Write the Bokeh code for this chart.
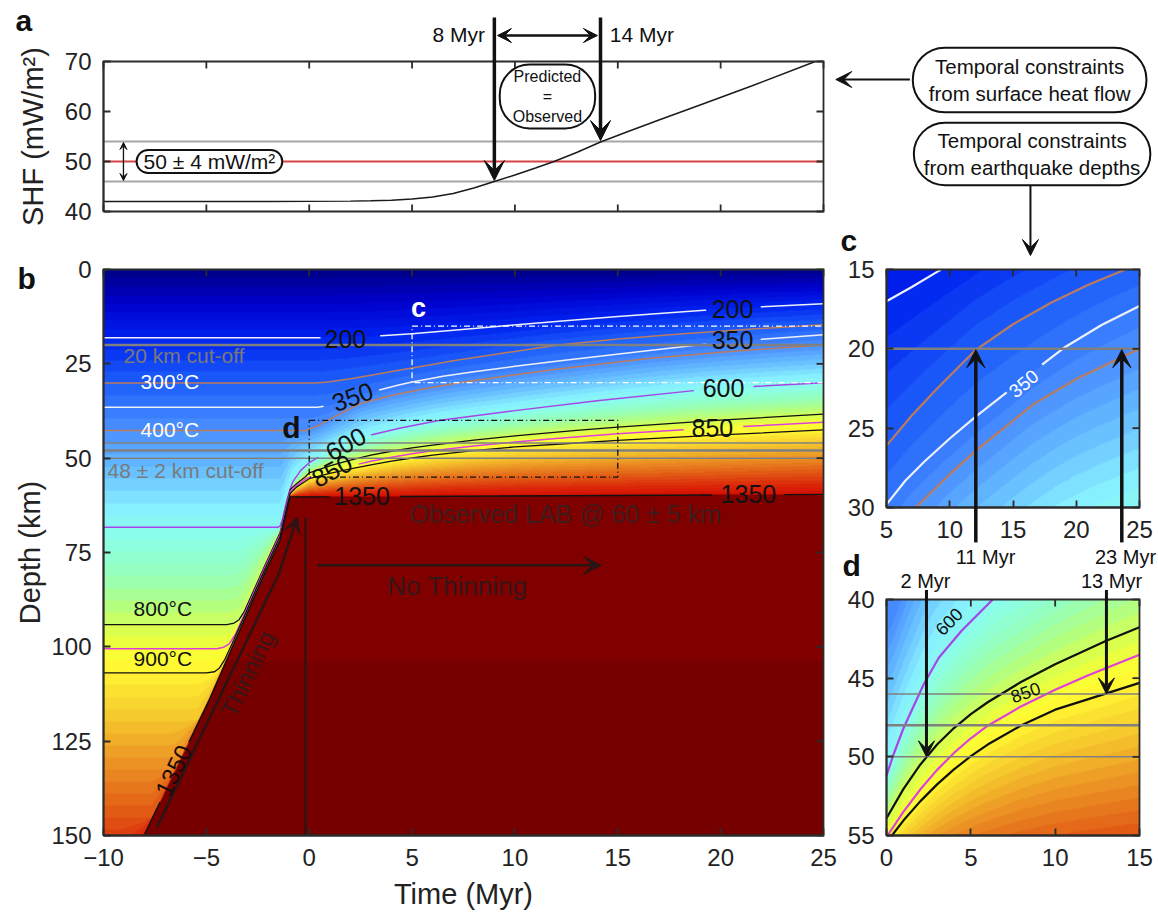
import numpy as np
from bokeh.plotting import figure
from bokeh.models import Range1d, LinearAxis, FixedTicker, Label, Arrow, VeeHead
from bokeh.embed import file_html
from bokeh.resources import INLINE

FONT = "Liberation Sans"
TICK_FS = "24px"
AXLAB_FS = "29px"
AX_COL = "#2b2b2b"

# ---------------- panel a : surface heat flow ----------------
shf_time = [-10, -2, 0, 2, 3, 4, 5, 6, 7, 8, 9, 10, 11, 11.9, 13.0, 14.16, 15.5, 17.0, 19.0, 21.5, 24.6]
shf_value = [42.0, 42.0, 42.03, 42.08, 42.14, 42.25, 42.5, 42.9, 43.6, 44.7, 46.0, 47.3, 48.7, 50.0, 51.8, 53.9, 56.0, 58.3, 61.3, 65.1, 70.0]
shf_obs = 50.0
shf_err = 4.0
shf_window_time = [9.0, 14.16]
shf_window_label = ["8 Myr", "14 Myr"]

# ---------------- isotherm depths (km) against time (Myr) ----------------
iso200_t = [-10, 0.5, 2.0, 3.5, 5.0, 7.0, 9.0, 12.0, 15.0, 19.2, 22.0, 25.0]
iso200_z = [18.1, 18.1, 17.9, 17.55, 17.0, 16.1, 15.15, 13.75, 12.45, 10.8, 9.9, 9.1]
iso300_t = [-10, 0.3, 1.0, 2.0, 3.0, 4.0, 5.0, 7.0, 9.0, 12.0, 15.0, 18.0, 21.0, 23.6, 25.0]
iso300_z = [30.1, 30.1, 29.75, 28.95, 28.0, 27.05, 26.1, 24.2, 22.5, 20.1, 18.45, 17.1, 15.95, 15.1, 14.65]
iso350_t = [-10, 0.4, 1.0, 2.0, 3.0, 4.3, 5.0, 6.5, 8.0, 10.0, 12.0, 16.0, 19.0, 22.0, 25.0]
iso350_z = [36.5, 36.5, 36.0, 34.2, 32.5, 30.7, 29.8, 28.3, 27.1, 25.65, 24.3, 21.8, 19.95, 18.5, 17.3]
iso400_t = [-10, -0.2, 0.5, 1.2, 2.5, 4.0, 5.4, 7.3, 10.0, 12.1, 16.6, 20.0, 25.0]
iso400_z = [42.7, 42.7, 41.2, 39.1, 35.5, 33.4, 31.8, 30.0, 27.9, 26.4, 23.5, 21.9, 20.0]
iso600_t = [-10, -1.5, -1.4, -1.3, -1.2, -1.08, -0.95, -0.8, -0.42, 0.0, 0.4, 1.0, 2.2, 3.1, 4.44, 6.3, 10.0, 14.0, 18.7, 21.6, 25.0]
iso600_z = [68.3, 68.3, 67.9, 66.2, 63.8, 61.0, 58.6, 56.3, 53.3, 51.2, 49.9, 48.2, 45.4, 43.7, 42.0, 40.0, 37.4, 34.8, 32.1, 31.0, 30.0]
iso800_t = [-10, -4.0, -3.65, -3.41, -3.15, -2.2, -1.42, -1.15, -1.0, -0.92, -0.6, -0.2, 0, 1, 2, 3, 4, 5, 6, 8, 10, 13, 15, 20, 25]
iso800_z = [94.1, 94.1, 93.7, 92.8, 90.6, 79.0, 69.8, 63.5, 60.0, 58.3, 56.7, 55.0, 53.9, 52.05, 50.5, 49.22, 48.17, 47.29, 46.53, 45.23, 44.11, 42.64, 41.76, 39.9, 38.35]
iso850_t = [-10, -4.5, -4.15, -3.89, -3.6, -3.0, -2.2, -1.42, -1.15, -1.0, -0.92, -0.6, -0.2, 0, 1, 2, 3, 4, 5, 6, 8, 10, 12, 15, 20, 25]
iso850_z = [100.5, 100.5, 100.1, 99.2, 96.8, 89.5, 79.5, 70.3, 64.0, 60.5, 58.8, 57.2, 55.6, 55.1, 53.5, 52.08, 50.83, 49.75, 48.82, 48.02, 46.78, 45.74, 44.8, 43.51, 41.91, 40.51]
iso900_t = [-10, -5.0, -4.6, -4.36, -4.1, -3.8, -3.0, -2.2, -1.42, -1.15, -1.0, -0.92, -0.6, -0.2, 0, 1, 2, 3, 4, 5, 6, 8, 10, 13, 15, 20, 25]
iso900_z = [106.9, 106.9, 106.6, 105.6, 103.3, 99.8, 90.0, 80.0, 70.8, 64.5, 61.0, 59.3, 57.6, 56.2, 55.45, 54.05, 52.83, 51.75, 50.8, 49.96, 49.22, 48.0, 47.0, 45.98, 45.3, 43.85, 42.5]
iso1000_t = [-10, -5.8, -5.41, -5.1, -4.87, -2.2, -1.42, -1.15, -1.0, -0.92]
iso1000_z = [119.7, 119.7, 119.3, 116.1, 113.5, 80.3, 71.1, 64.8, 61.3, 59.6]
iso1100_t = [-10, -6.9, -6.53, -6.2, -4.87, -2.2, -1.42, -1.15, -1.0, -0.92]
iso1100_z = [132.5, 132.5, 132.1, 128.8, 113.7, 80.5, 71.3, 65.0, 61.5, 59.8]
iso1200_t = [-10, -8.0, -7.64, -7.3, -4.87, -2.2, -1.42, -1.15, -1.0, -0.92]
iso1200_z = [145.3, 145.3, 145.0, 141.4, 113.9, 80.7, 71.5, 65.2, 61.7, 60.0]
iso1300_t = [-10, -9.2, -8.03, -4.87, -2.2, -1.42, -1.15, -1.0, -0.92]
iso1300_z = [158.0, 158.0, 149.85, 114.05, 80.85, 71.65, 65.35, 61.85, 60.15]
iso1350_t = [-10, -8.6, -8.03, -4.87, -2.2, -1.42, -1.15, -1.0, -0.92, 25.0]
iso1350_z = [164.0, 157.0, 150.0, 114.2, 81.0, 71.8, 65.5, 62.0, 60.3, 59.6]

ISOTHERMS = [(200, iso200_t, iso200_z), (300, iso300_t, iso300_z), (350, iso350_t, iso350_z),
             (400, iso400_t, iso400_z), (600, iso600_t, iso600_z), (800, iso800_t, iso800_z),
             (850, iso850_t, iso850_z), (900, iso900_t, iso900_z), (1000, iso1000_t, iso1000_z),
             (1100, iso1100_t, iso1100_z), (1200, iso1200_t, iso1200_z), (1300, iso1300_t, iso1300_z),
             (1350, iso1350_t, iso1350_z)]

# seismogenic cut-off depths (km)
cutoff_shallow = 20.0
cutoff_deep = [46.0, 48.0, 50.0]

# earthquake-depth constraints
c_arrow_time = [12.06, 23.6]
c_arrow_label = ["11 Myr", "23 Myr"]
d_arrow_time = [2.37, 13.04]
d_arrow_depth = [50.0, 46.0]
d_arrow_label = ["2 Myr", "13 Myr"]

# thinning path (time, depth)
thin_t = [-7.4, -1.48, -0.58]
thin_z = [147.8, 80.7, 65.6]

# colour map anchors (temperature -> rgb)
cmap_T = [0, 100, 200, 300, 400, 500, 560, 620, 700, 760, 820, 870, 920, 1000, 1100, 1200, 1280, 1350]
cmap_R = [0, 0, 0, 30, 75, 110, 135, 140, 150, 180, 225, 255, 255, 245, 235, 225, 220, 212]
cmap_G = [0, 0, 35, 95, 145, 200, 240, 255, 255, 255, 255, 255, 235, 195, 140, 85, 40, 15]
cmap_B = [135, 205, 240, 250, 255, 255, 255, 235, 185, 130, 70, 50, 50, 45, 35, 20, 10, 0]
band = 25.0
mantle_rgb = (128, 0, 0)
mantle_deep_rgb = (118, 0, 0)
mantle_band_depth = 103.5

WHITE_ISO = "#EEF0F8"
BROWN = "#BA7B5E"
PURPLE = "#A646E6"
MAGENTA = "#E040D8"
BLACK = "#111111"
GRAY = "#808080"
DARKTXT = "#361616"

# ---------------- page layout: panel boxes in pixels, with axis limits ----------------
W, H = 1158, 913
PANEL_BOX = {"a": (103, 823, 61, 211), "b": (103, 823, 269, 835),
             "c": (886, 1139, 269, 507), "d": (886, 1139, 599, 835)}
PANEL_X = {"a": (-10, 25), "b": (-10, 25), "c": (5, 25), "d": (0, 15)}
PANEL_Y = {"a": (40, 70), "b": (-150, 0), "c": (-30, -15), "d": (-55, -40)}

p = figure(width=W, height=H, x_range=Range1d(0, W), y_range=Range1d(0, H),
           x_axis_location=None, y_axis_location=None, min_border=0,
           output_backend="svg", toolbar_location=None)
p.grid.visible = False
p.outline_line_color = None
p.background_fill_color = "white"
p.border_fill_color = "white"

UX, UY = {}, {}
for k in "abcd":
    l, r, t, b = PANEL_BOX[k]
    x0, x1 = PANEL_X[k]
    y0, y1 = PANEL_Y[k]
    UX[k] = (x1 - x0) / (r - l)
    UY[k] = (y1 - y0) / (b - t)
    p.extra_x_ranges[k + "x"] = Range1d(x0 - l * UX[k], x1 + (W - r) * UX[k])
    p.extra_y_ranges[k + "y"] = Range1d(y0 - (H - b) * UY[k], y1 + t * UY[k])


def R(k):
    return dict(x_range_name=k + "x", y_range_name=k + "y")


def temperature(tv, zv):
    out = np.empty((len(zv), len(tv)))
    for i, t in enumerate(tv):
        temps = [0.0]
        deps = [0.0]
        for T, kt, kz in ISOTHERMS:
            if kt[0] <= t <= kt[-1]:
                temps.append(float(T))
                deps.append(float(np.interp(t, kt, kz)))
        order = np.argsort(temps)
        temps = np.array(temps)[order]
        deps = np.maximum.accumulate(np.array(deps)[order]) + np.arange(len(temps)) * 1e-6
        out[:, i] = np.interp(zv, deps, temps, right=1400.0)
    return out


def colorize(T, zv):
    Tq = np.floor(T / band) * band + band / 2
    Rc = np.interp(Tq, cmap_T, cmap_R)
    Gc = np.interp(Tq, cmap_T, cmap_G)
    Bc = np.interp(Tq, cmap_T, cmap_B)
    hot = T >= 1350
    deep = hot & (zv[:, None] > mantle_band_depth)
    for arr, j in ((Rc, 0), (Gc, 1), (Bc, 2)):
        arr[hot] = mantle_rgb[j]
        arr[deep] = mantle_deep_rgb[j]
    nz, nx = T.shape
    img = np.empty((nz, nx), dtype=np.uint32)
    view = img.view(dtype=np.uint8).reshape((nz, nx, 4))
    view[..., 0] = Rc.astype(np.uint8)
    view[..., 1] = Gc.astype(np.uint8)
    view[..., 2] = Bc.astype(np.uint8)
    view[..., 3] = 255
    return img


def add_field(k):
    l, r, t, b = PANEL_BOX[k]
    t0, t1 = PANEL_X[k]
    z0, z1 = -PANEL_Y[k][1], -PANEL_Y[k][0]
    nx, nz = r - l, b - t
    tv = t0 + (np.arange(nx) + 0.5) * (t1 - t0) / nx
    zv = z1 - (np.arange(nz) + 0.5) * (z1 - z0) / nz
    img = colorize(temperature(tv, zv), zv)
    p.image_rgba(image=[img], x=t0, y=-z1, dw=t1 - t0, dh=z1 - z0, **R(k))


def gapped(kt, kz, gaps=()):
    kt = np.asarray(kt, float)
    kz = np.asarray(kz, float)
    pts = [(a, c) for a, c in zip(kt, kz) if not any(g0 < a < g1 for g0, g1 in gaps)]
    for g0, g1 in gaps:
        pts.append((g0, float(np.interp(g0, kt, kz))))
        pts.append(((g0 + g1) / 2, np.nan))
        pts.append((g1, float(np.interp(g1, kt, kz))))
    pts.sort(key=lambda q: q[0])
    return np.array([q[0] for q in pts]), np.array([q[1] for q in pts])


def clip_seg(x0, y0, x1, y1, xmin, xmax, ymin, ymax):
    dx, dy = x1 - x0, y1 - y0
    u0, u1 = 0.0, 1.0
    for pi, qi in ((-dx, x0 - xmin), (dx, xmax - x0), (-dy, y0 - ymin), (dy, ymax - y0)):
        if pi == 0:
            if qi < 0:
                return None
        else:
            tt = qi / pi
            if pi < 0:
                u0 = max(u0, tt)
            else:
                u1 = min(u1, tt)
    if u0 > u1:
        return None
    return x0 + u0 * dx, y0 + u0 * dy, x0 + u1 * dx, y0 + u1 * dy


def clip_line(xs, ys, k):
    xmin, xmax = PANEL_X[k]
    ymin, ymax = PANEL_Y[k]
    ox, oy = [], []
    for i in range(len(xs) - 1):
        a, b_, c, d = xs[i], ys[i], xs[i + 1], ys[i + 1]
        if np.isnan([a, b_, c, d]).any():
            continue
        s = clip_seg(a, b_, c, d, xmin, xmax, ymin, ymax)
        if s is None:
            continue
        if ox and np.isclose(ox[-1], s[0]) and np.isclose(oy[-1], s[1]):
            ox.append(s[2])
            oy.append(s[3])
        else:
            ox += [np.nan, s[0], s[2]]
            oy += [np.nan, s[1], s[3]]
    return np.array(ox), np.array(oy)


def contour(k, kt, kz, color, width, gaps=()):
    xs, zs = gapped(kt, kz, gaps)
    xs, ys = clip_line(xs, -zs, k)
    p.line(xs, ys, line_color=color, line_width=width, line_join="round", **R(k))


def hline(k, y, color, width):
    x0, x1 = PANEL_X[k]
    p.line([x0, x1], [y, y], line_color=color, line_width=width, **R(k))


def axis(k, side, ticks, at, bounds, overrides=None, standoff=12):
    ax = LinearAxis(fixed_location=at, bounds=bounds, ticker=FixedTicker(ticks=ticks), **R(k))
    if overrides:
        ax.major_label_overrides = overrides
    ax.major_tick_in = 7
    ax.major_tick_out = 0
    ax.minor_tick_in = 0
    ax.minor_tick_out = 0
    ax.axis_line_color = AX_COL
    ax.axis_line_width = 1.8
    ax.major_tick_line_color = AX_COL
    ax.major_tick_line_width = 1.8
    ax.major_label_text_font = FONT
    ax.major_label_text_font_size = TICK_FS
    ax.major_label_text_color = "#222222"
    ax.major_label_standoff = standoff
    p.add_layout(ax, side)


def frame_box(k, xticks_mirror, yticks_mirror, bottom_ticks=None):
    x0, x1 = PANEL_X[k]
    y0, y1 = PANEL_Y[k]
    p.line([x0, x1, x1, x0, x0], [y0, y0, y1, y1, y0], line_color=AX_COL, line_width=1.8,
           line_join="miter", **R(k))
    ly, lx = 7 * UY[k], 7 * UX[k]
    xs = list(xticks_mirror)
    p.segment(x0=xs, y0=[y1] * len(xs), x1=xs, y1=[y1 - ly] * len(xs), line_color=AX_COL,
              line_width=1.8, **R(k))
    ys = list(yticks_mirror)
    p.segment(x0=[x1] * len(ys), y0=ys, x1=[x1 - lx] * len(ys), y1=ys, line_color=AX_COL,
              line_width=1.8, **R(k))
    if bottom_ticks:
        bt = list(bottom_ticks)
        p.segment(x0=bt, y0=[y0] * len(bt), x1=bt, y1=[y0 + ly] * len(bt), line_color=AX_COL,
                  line_width=1.8, **R(k))


def label(k, x, y, text, size="21px", color="#111111", align="center", baseline="middle",
          bold=False, angle=0, **kw):
    p.add_layout(Label(x=x, y=y, text=text, text_font=FONT, text_font_size=size, text_color=color,
                       text_align=align, text_baseline=baseline,
                       text_font_style="bold" if bold else "normal",
                       angle=angle, angle_units="deg", **R(k), **kw))


def arrow(k, x0, y0, x1, y1, width=3.0, head=18, both=False, color="#111111"):
    def hd():
        return VeeHead(size=head, fill_color=color, line_color=color, line_width=1)
    p.add_layout(Arrow(x_start=x0, y_start=y0, x_end=x1, y_end=y1, line_color=color,
                       line_width=width, end=hd(), start=hd() if both else None, **R(k)))


def box_label(k, x, y, text, size, radius, pad):
    p.add_layout(Label(x=x, y=y, text=text, text_font=FONT, text_font_size=size, text_color="#111111",
                       text_align="center", text_baseline="middle",
                       background_fill_color="white", border_line_color="#111111", border_line_width=2,
                       border_radius=radius, padding=pad, **R(k)))


xt = list(range(-10, 26, 5))

# ---------------- fields ----------------
for k in "bcd":
    add_field(k)

# ======================= panel a =======================
for v, col in [(shf_obs + shf_err, "#A8A8A8"), (shf_obs - shf_err, "#A8A8A8"), (shf_obs, "#D84545")]:
    hline("a", v, col, 2)
p.line(shf_time, shf_value, line_color="#1a1a1a", line_width=1.4, **R("a"))
frame_box("a", xt, [40, 50, 60, 70], bottom_ticks=xt)
axis("a", "left", [40, 50, 60, 70], -10, (40, 70))
label("a", -13.45, 55.0, "SHF (mW/m²)", size=AXLAB_FS, color="#222222", angle=90)

label("a", -14.28, 78.2, "a", size="30px", bold=True, align="left")
label("a", shf_window_time[0] - 0.45, 75.5, shf_window_label[0], align="right")
label("a", shf_window_time[1] + 0.45, 75.5, shf_window_label[1], align="left")
arrow("a", shf_window_time[0], 78.8, shf_window_time[0], shf_obs - shf_err + 0.2, width=3.5, head=20)
arrow("a", shf_window_time[1], 78.8, shf_window_time[1], shf_obs + shf_err + 0.2, width=3.5, head=20)
arrow("a", shf_window_time[0] + 0.15, 75.2, shf_window_time[1] - 0.15, 75.2, width=2.5, head=14, both=True)
box_label("a", 11.58, 63.0, "Predicted\n=\nObserved", "16px", 30, dict(left=13, right=13, top=3, bottom=3))
arrow("a", -9.03, shf_obs - shf_err + 0.2, -9.03, shf_obs + shf_err - 0.2, width=1.3, head=7, both=True)
box_label("a", -4.85, shf_obs, "50 ± 4 mW/m²", "21px", 12, dict(left=7, right=7, top=0, bottom=0))
box_label("a", 35.02, 66.3, "Temporal constraints\nfrom surface heat flow", "20.5px", 32,
          dict(left=16, right=16, top=7, bottom=7))
arrow("a", 29.2, 66.4, 25.6, 66.4, width=2.0, head=16)
box_label("a", 35.14, 51.5, "Temporal constraints\nfrom earthquake depths", "20.5px", 32,
          dict(left=10, right=10, top=6, bottom=6))
arrow("a", 35.06, 45.2, 35.06, 31.2, width=2.0, head=16)
label("a", 25.83, 34.2, "c", size="30px", bold=True, align="left")

# ======================= panel b =======================
yb = [0, -25, -50, -75, -100, -125, -150]
contour("b", iso200_t, iso200_z, WHITE_ISO, 1.5, [(0.55, 3.45), (19.3, 21.95)])
contour("b", iso300_t, iso300_z, BROWN, 1.5)
contour("b", iso350_t, iso350_z, WHITE_ISO, 1.5, [(0.7, 3.4), (19.3, 21.95)])
contour("b", iso400_t, iso400_z, BROWN, 1.5)
contour("b", iso600_t, iso600_z, PURPLE, 1.5, [(0.45, 3.0), (18.7, 21.6)])
contour("b", iso800_t, iso800_z, BLACK, 1.3)
contour("b", iso850_t, iso850_z, MAGENTA, 1.5, [(0.1, 2.4), (18.2, 21.1)])
contour("b", iso900_t, iso900_z, BLACK, 1.3)
contour("b", iso1350_t, iso1350_z, BLACK, 1.4, [(-7.25, -5.85), (1.0, 4.4), (19.6, 23.1)])
for v, w in [(cutoff_shallow, 2.5)] + list(zip(cutoff_deep, [1.5, 2.5, 1.5])):
    hline("b", -v, GRAY, w)
p.line([5, 25, 25, 5, 5], [-15, -15, -30, -30, -15], line_color="white", line_width=1.3,
       line_dash="6 3 1 3", **R("b"))
p.line([0, 15, 15, 0, 0], [-40, -40, -55, -55, -40], line_color=BLACK, line_width=1.3,
       line_dash="6 3 1 3", **R("b"))
p.line(thin_t[:2], [-thin_z[0], -thin_z[1]], line_color="#2a1414", line_width=2.5, **R("b"))
arrow("b", thin_t[1], -thin_z[1], thin_t[2], -thin_z[2], width=2.5, head=16, color="#2a1414")
p.line([-0.18, -0.18], [-65.7, -150], line_color="#2a1414", line_width=2.2, **R("b"))
arrow("b", 0.38, -78.4, 14.2, -78.4, width=2.5, head=18, color="#2a1414")
frame_box("b", xt, yb)
axis("b", "left", yb, -10, (-150, 0), overrides={v: str(-v) for v in yb})
axis("b", "below", xt, -150, (-10, 25), standoff=13)
label("b", -13.55, -75.0, "Depth (km)", size=AXLAB_FS, color="#222222", angle=90)
label("b", 7.5, -165.4, "Time (Myr)", size=AXLAB_FS, color="#222222")

label("b", 7.2, -84.0, "No Thinning", size="26px", color=DARKTXT)
label("b", -3.0, -107.1, "Thinning", size="24px", color=DARKTXT, angle=64)
label("b", 12.46, -64.7, "Observed LAB @ 60 ± 5 km", size="25px", color="#3f1c1c")
label("b", -14.18, -2.4, "b", size="30px", bold=True, align="left")
label("b", -9.03, -22.8, "20 km  cut-off", color="#7a7a7a", align="left")
label("b", -8.2, -29.6, "300°C", color="white", align="left")
label("b", -8.2, -42.5, "400°C", color="white", align="left")
label("b", -9.8, -53.3, "48 ± 2 km  cut-off", color="#7a7a7a", align="left")
label("b", -8.54, -89.9, "800°C", align="left")
label("b", -8.54, -103.2, "900°C", align="left")
CL = "25px"
label("b", 1.76, -18.3, "200", size=CL)
label("b", 2.1, -33.7, "350", size=CL, angle=20)
label("b", 1.77, -46.2, "600", size=CL, angle=30)
label("b", 1.1, -53.3, "850", size=CL, angle=28)
label("b", 2.57, -59.9, "1350", size=CL)
label("b", 20.58, -10.6, "200", size=CL)
label("b", 20.58, -18.8, "350", size=CL)
label("b", 20.14, -31.5, "600", size=CL)
label("b", 19.6, -41.9, "850", size=CL)
label("b", 21.35, -59.4, "1350", size=CL)
label("b", -6.6, -132.8, "1350", size="24px", color="#1a0a0a", angle=64)
label("b", 5.31, -10.1, "c", size="27px", color="white", bold=True)
label("b", -0.86, -41.9, "d", size="30px", bold=True)

# ======================= panel c =======================
xc = [5, 10, 15, 20, 25]
yc = [-30, -25, -20, -15]
contour("c", iso200_t, iso200_z, WHITE_ISO, 2.2)
contour("c", iso300_t, iso300_z, BROWN, 2.2)
contour("c", iso350_t, iso350_z, WHITE_ISO, 2.2, [(14.5, 17.3)])
contour("c", iso400_t, iso400_z, BROWN, 2.2)
contour("c", iso600_t, iso600_z, PURPLE, 2.2)
hline("c", -cutoff_shallow, GRAY, 2.5)
frame_box("c", xc, yc)
axis("c", "left", yc, 5, (-30, -15), overrides={v: str(-v) for v in yc})
axis("c", "below", xc, -30, (5, 25), standoff=13)
label("c", 15.85, -22.2, "350", size="19px", color="white", angle=40)
for t in c_arrow_time:
    arrow("c", t, -32.2, t, -cutoff_shallow - 0.05, width=3.5, head=18)

# ======================= panel d =======================
xd = [0, 5, 10, 15]
yd = [-55, -50, -45, -40]
contour("d", iso600_t, iso600_z, PURPLE, 2.2)
contour("d", iso800_t, iso800_z, BLACK, 2.2)
contour("d", iso850_t, iso850_z, MAGENTA, 2.2)
contour("d", iso900_t, iso900_z, BLACK, 2.2)
for v, w in zip(cutoff_deep, [1.5, 2.5, 1.5]):
    hline("d", -v, GRAY, w)
frame_box("d", xd, yd)
axis("d", "left", yd, 0, (-55, -40), overrides={v: str(-v) for v in yd})
axis("d", "below", xd, -55, (0, 15), standoff=13)
label("d", 3.7, -41.4, "600", size="18px", angle=45)
label("d", 8.24, -45.9, "850", size="18px", angle=20)
label("d", 5.87, -37.33, c_arrow_label[0], size="20px")
label("d", 14.17, -37.33, c_arrow_label[1], size="20px")
label("d", -2.07, -37.84, "d", size="30px", bold=True)
label("d", 2.31, -38.8, d_arrow_label[0], size="20px")
label("d", 13.34, -38.8, d_arrow_label[1], size="20px")
for t, z in zip(d_arrow_time, d_arrow_depth):
    arrow("d", t, -39.4, t, -z, width=3.0, head=16)

open("out.html", "w").write(file_html(p, INLINE, title="thermal model"))
